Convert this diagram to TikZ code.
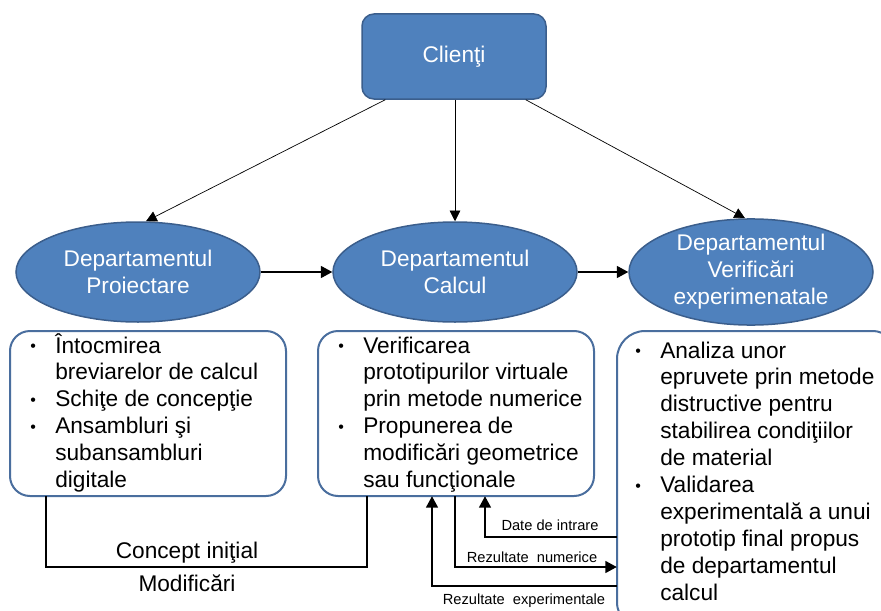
\documentclass[tikz,border=0pt]{standalone}
\usepackage{fontspec}
\setmainfont{Liberation Sans}
\usetikzlibrary{arrows.meta,shapes.geometric}
\definecolor{bfill}{HTML}{4F81BD}
\definecolor{bedge}{HTML}{3B5E8C}
\definecolor{boxedge}{HTML}{4A6E9E}
\tikzset{
  clientbox/.style={draw=bedge,line width=1.125pt,fill=bfill,rounded corners=9pt,minimum width=138pt,minimum height=63.75pt,text=white,font=\fontsize{17pt}{20pt}\selectfont},
  dept/.style={ellipse,draw=bedge,line width=1.125pt,fill=bfill,minimum width=183pt,minimum height=75pt,inner sep=0pt,text=white,align=center,font=\fontsize{17pt}{20pt}\selectfont},
  listbox/.style={draw=boxedge,line width=1.5pt,fill=white,rounded corners=15pt},
  listtext/.style={anchor=base west,inner sep=0pt,font=\fontsize{17pt}{20.2pt}\selectfont},
  conn/.style={draw=black,line width=0.975pt},
  arr/.style={conn,-{Triangle[length=8.5pt,width=9pt]}},
  thinarr/.style={draw=black,line width=0.525pt,-{Triangle[length=8pt,width=8pt]}},
  smalllbl/.style={font=\fontsize{11pt}{12pt}\selectfont,inner sep=0pt},
  biglbl/.style={font=\fontsize{17pt}{20pt}\selectfont,inner sep=0pt}
}
\newcommand{\bl}{\makebox[18.75pt][l]{\raisebox{1pt}{\fontsize{12pt}{12pt}\selectfont\textbullet}}}
\begin{document}
\begin{tikzpicture}[x=0.75pt,y=-0.75pt]
\useasboundingbox (0,0) rectangle (881,610);
\clip (0,0) rectangle (881,610);
% top
\node[clientbox] (cl) at (454,56.5) {Clienţi};
\node[dept] (p) at (138,272) {Departamentul\\Proiectare};
\node[dept] (c) at (455,272) {Departamentul\\Calcul};
\node[dept,font=\fontsize{17pt}{20.2pt}\selectfont] (v) at (751,272) {Departamentul\\Verificări\\experimenatale};
\draw[thinarr] ([xshift=18pt]cl.south west) -- ([xshift=6pt]p.north);
\draw[thinarr] (cl.south -| c.north) -- (c.north);
\draw[thinarr] ([xshift=-15.75pt]cl.south east) -- ([xshift=-4.5pt]v.north);
\draw[arr] (p.east) -- (c.west);
\draw[arr] (c.east) -- (c.east -| v.west);
% boxes
\draw[listbox] (10,331) rectangle (286,496);
\node[inner sep=0pt,minimum width=207pt,minimum height=123.75pt] (b1) at (148,413.5) {};
\draw[listbox] (318,331) rectangle (594,496);
\node[inner sep=0pt,minimum width=207pt,minimum height=123.75pt] (b2) at (456,413.5) {};
\draw[listbox,rounded corners=21pt] (617,331) rectangle (900,630);
\node[inner sep=0pt,minimum width=212.25pt,minimum height=224.25pt] (b3) at (758.5,480.5) {};
\node[listtext] (t1) at (30,353) {\begin{tabular}[t]{@{}l@{}l@{}}
\bl & Întocmirea\\
 & breviarelor de calcul\\
\bl & Schiţe de concepţie\\
\bl & Ansambluri şi\\
 & subansambluri\\
 & digitale
\end{tabular}};
\node[listtext] (t2) at (338,353) {\begin{tabular}[t]{@{}l@{}l@{}}
\bl & Verificarea\\
 & prototipurilor virtuale\\
 & prin metode numerice\\
\bl & Propunerea de\\
 & modificări geometrice\\
 & sau funcţionale
\end{tabular}};
\node[listtext] (t3) at (635,358) {\begin{tabular}[t]{@{}l@{}l@{}}
\bl & Analiza unor\\
 & epruvete prin metode\\
 & distructive pentru\\
 & stabilirea condiţiilor\\
 & de material\\
\bl & Validarea\\
 & experimentală a unui\\
 & prototip final propus\\
 & de departamentul\\
 & calcul
\end{tabular}};
% bottom connectors
\coordinate (k1) at (46,567);
\coordinate (k2) at (367,567);
\draw[conn] (b1.south -| k1) -- (k1) -- (k2) -- (b2.south -| k2);
\node[biglbl,anchor=base] (ci) at (187,558) {Concept iniţial};
\node[biglbl,anchor=base] (mo) at (187,591) {Modificări};
\coordinate (d1) at (485,537);
\draw[arr] (b3.west |- d1) -- (d1) -- (b2.south -| d1);
\node[smalllbl,anchor=base] (di) at (550,530) {Date de intrare};
\coordinate (r1) at (455,567);
\draw[arr] (b2.south -| r1) -- (r1) -- (b3.west |- r1);
\node[smalllbl,anchor=base] (rn) at (532,562) {Rezultate\ \ numerice};
\coordinate (e1) at (432,586);
\draw[arr] (b3.west |- e1) -- (e1) -- (b2.south -| e1);
\node[smalllbl,anchor=base] (re) at (524,604) {Rezultate\ \ experimentale};
\end{tikzpicture}
\end{document}
